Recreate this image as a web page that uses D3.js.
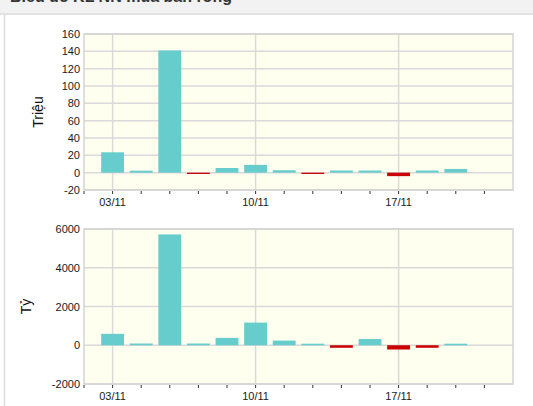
<!DOCTYPE html>
<html>
<head>
<meta charset="utf-8">
<script src="https://cdn.jsdelivr.net/npm/d3@7"></script>
<style>
  body { margin: 0; background: #fff; }
  svg { display: block; font-family: Arial, "Liberation Sans", sans-serif; }
</style>
</head>
<body>
<svg id="chart"></svg>
<script>
const WIDTH = 533
const HEIGHT = 406
const SVG = d3.select('#chart').attr('width', WIDTH).attr('height', HEIGHT)

// trading days on the x axis (first and last are the plot edges)
const days = ['31/10', '03/11', '04/11', '05/11', '06/11', '07/11', '10/11', '11/11', '12/11',
  '13/11', '14/11', '17/11', '18/11', '19/11', '20/11', '21/11']
const barDays = ['03/11', '04/11', '05/11', '06/11', '07/11', '10/11', '11/11', '12/11',
  '13/11', '14/11', '17/11', '18/11', '19/11']
const labelDays = ['03/11', '10/11', '17/11']

// net volume (millions of shares) and net value (billions VND)
const volume = [23.5, 2.3, 141, -1.5, 5.4, 9, 2.8, -1.5, 2.5, 2.5, -4, 2.5, 4.3]
const value = [590, 90, 5720, 90, 380, 1170, 240, 80, -130, 320, -220, -130, 80]

const volTicks = [-20, 0, 20, 40, 60, 80, 100, 120, 140, 160]
const valTicks = [-2000, 0, 2000, 4000, 6000]

const POS = '#66cccc'
const NEG = '#cc0000'

// header strip (title is scrolled mostly out of view)
SVG.append('rect').attr('x', 0).attr('y', 0).attr('width', WIDTH).attr('height', 14).attr('fill', '#f2f2f2')
SVG.append('rect').attr('x', 0).attr('y', 13).attr('width', WIDTH).attr('height', 2).attr('fill', '#e2e2e2')
SVG.append('text').attr('x', 10).attr('y', 2).attr('font-size', 16).attr('font-weight', 'bold')
  .attr('fill', '#333').text('Biểu đồ KL NN mua bán ròng')
SVG.append('line').attr('x1', 4.5).attr('x2', 4.5).attr('y1', 15).attr('y2', HEIGHT)
  .attr('stroke', '#dddddd').attr('stroke-width', 1.5)

let xScale = d3.scalePoint().domain(days).range([84, 513])
const step = xScale.step()
const barW = step * 0.8

function drawPanel (top, bottom, domain, ticks, data, title, titleX) {
  let yScale = d3.scaleLinear().domain(domain).range([bottom, top])
  let g = SVG.append('g')

  g.append('rect').attr('x', 84).attr('y', top).attr('width', 513 - 84).attr('height', bottom - top)
    .attr('fill', '#fffff0')

  // horizontal grid
  g.selectAll('.hgrid').data(ticks).enter().append('line')
    .attr('x1', 84).attr('x2', 513)
    .attr('y1', d => yScale(d)).attr('y2', d => yScale(d))
    .attr('stroke', '#d9d9d9').attr('stroke-width', 1.5)
  // vertical grid at labelled days
  g.selectAll('.vgrid').data(labelDays).enter().append('line')
    .attr('x1', d => xScale(d)).attr('x2', d => xScale(d))
    .attr('y1', top).attr('y2', bottom)
    .attr('stroke', '#d9d9d9').attr('stroke-width', 1.5)

  g.append('rect').attr('x', 84).attr('y', top).attr('width', 513 - 84).attr('height', bottom - top)
    .attr('fill', 'none').attr('stroke', '#d4d4d4').attr('stroke-width', 1.5)

  // bars
  g.selectAll('.bar').data(data).enter().append('rect')
    .attr('x', (d, i) => xScale(barDays[i]) - barW / 2)
    .attr('width', barW)
    .attr('y', d => yScale(Math.max(0, d)))
    .attr('height', d => Math.abs(yScale(d) - yScale(0)))
    .attr('fill', d => d < 0 ? NEG : POS)

  // y tick labels
  g.selectAll('.ylab').data(ticks).enter().append('text')
    .attr('x', 80).attr('y', d => yScale(d) + 4)
    .attr('text-anchor', 'end').attr('font-size', 11).attr('fill', '#1a1a1a')
    .text(d => d)

  // x tick marks
  g.selectAll('.xtick').data(days.slice(0, days.length - 1)).enter().append('line')
    .attr('x1', d => xScale(d)).attr('x2', d => xScale(d))
    .attr('y1', bottom + 1).attr('y2', bottom + 4)
    .attr('stroke', '#333').attr('stroke-width', 1)

  g.selectAll('.xlab').data(labelDays).enter().append('text')
    .attr('x', d => xScale(d)).attr('y', bottom + 16)
    .attr('text-anchor', 'middle').attr('font-size', 11).attr('fill', '#1a1a1a')
    .text(d => d)

  g.append('text')
    .attr('transform', 'translate(' + titleX + ',' + (top + bottom) / 2 + ')rotate(-90)')
    .attr('text-anchor', 'middle').attr('font-size', 14).attr('fill', '#111')
    .text(title)
}

drawPanel(34, 190, [-20, 160], volTicks, volume, 'Triệu', 43)
drawPanel(229, 384, [-2000, 6000], valTicks, value, 'Tỷ', 31)
</script>
</body>
</html>
